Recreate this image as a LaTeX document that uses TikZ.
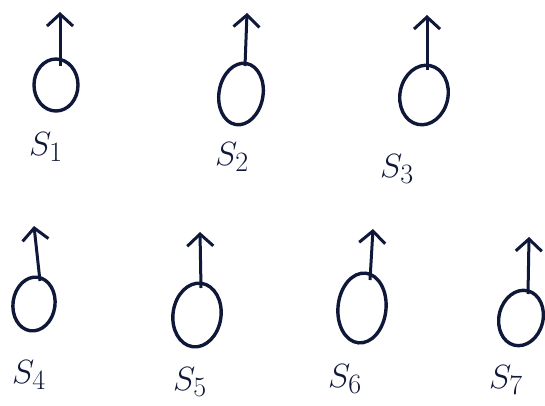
\documentclass[tikz,border=0pt]{standalone}
\usetikzlibrary{shapes.geometric,arrows.meta}
\definecolor{ink}{HTML}{10183A}
\begin{document}
\begin{tikzpicture}[x=1pt,y=-1pt,
  spin/.style={draw=ink,line width=3.4pt,ellipse,inner sep=0pt},
  spinarrow/.style={draw=ink,line width=3pt,-{Straight Barb[length=12pt,width=26pt,line width=3pt]}},
  lbl/.style={text=ink,font=\Huge,scale=1.35,transform shape,inner sep=1pt}]
\useasboundingbox (0,0) rectangle (545,405);
% spins
\node[spin,minimum width=44pt,minimum height=52pt] (s1) at (56,85) {};
\node[spin,minimum width=44pt,minimum height=62pt,rotate=-10] (s2) at (241,94) {};
\node[spin,minimum width=48pt,minimum height=60pt,rotate=-12] (s3) at (424,95) {};
\node[spin,minimum width=42pt,minimum height=54pt,rotate=-8] (s4) at (34,304) {};
\node[spin,minimum width=48pt,minimum height=64pt,rotate=-8] (s5) at (197,315) {};
\node[spin,minimum width=48pt,minimum height=70pt,rotate=-6] (s6) at (362,308) {};
\node[spin,minimum width=44pt,minimum height=56pt,rotate=-14] (s7) at (521,318) {};
% arrow tips
\coordinate (t1) at (60,12);
\coordinate (t2) at (247,13);
\coordinate (t3) at (427,15);
\coordinate (t4) at (34,226);
\coordinate (t5) at (200,232);
\coordinate (t6) at (373,229);
\coordinate (t7) at (529,237);
\draw[spinarrow] (60,66) -- (t1);
\draw[spinarrow] (245,66) -- (t2);
\draw[spinarrow] (427,70) -- (t3);
\draw[spinarrow] (40,281) -- (t4);
\draw[spinarrow] (201,288) -- (t5);
\draw[spinarrow] (370,280) -- (t6);
\draw[spinarrow] (528,294) -- (t7);
% labels
\node[lbl] (l1) at (46,147) {$S_1$};
\node[lbl] (l2) at (232,157) {$S_2$};
\node[lbl] (l3) at (397,169) {$S_3$};
\node[lbl] (l4) at (29,375) {$S_4$};
\node[lbl] (l5) at (190,382) {$S_5$};
\node[lbl] (l6) at (345,379) {$S_6$};
\node[lbl] (l7) at (506,380) {$S_7$};
\end{tikzpicture}
\end{document}
